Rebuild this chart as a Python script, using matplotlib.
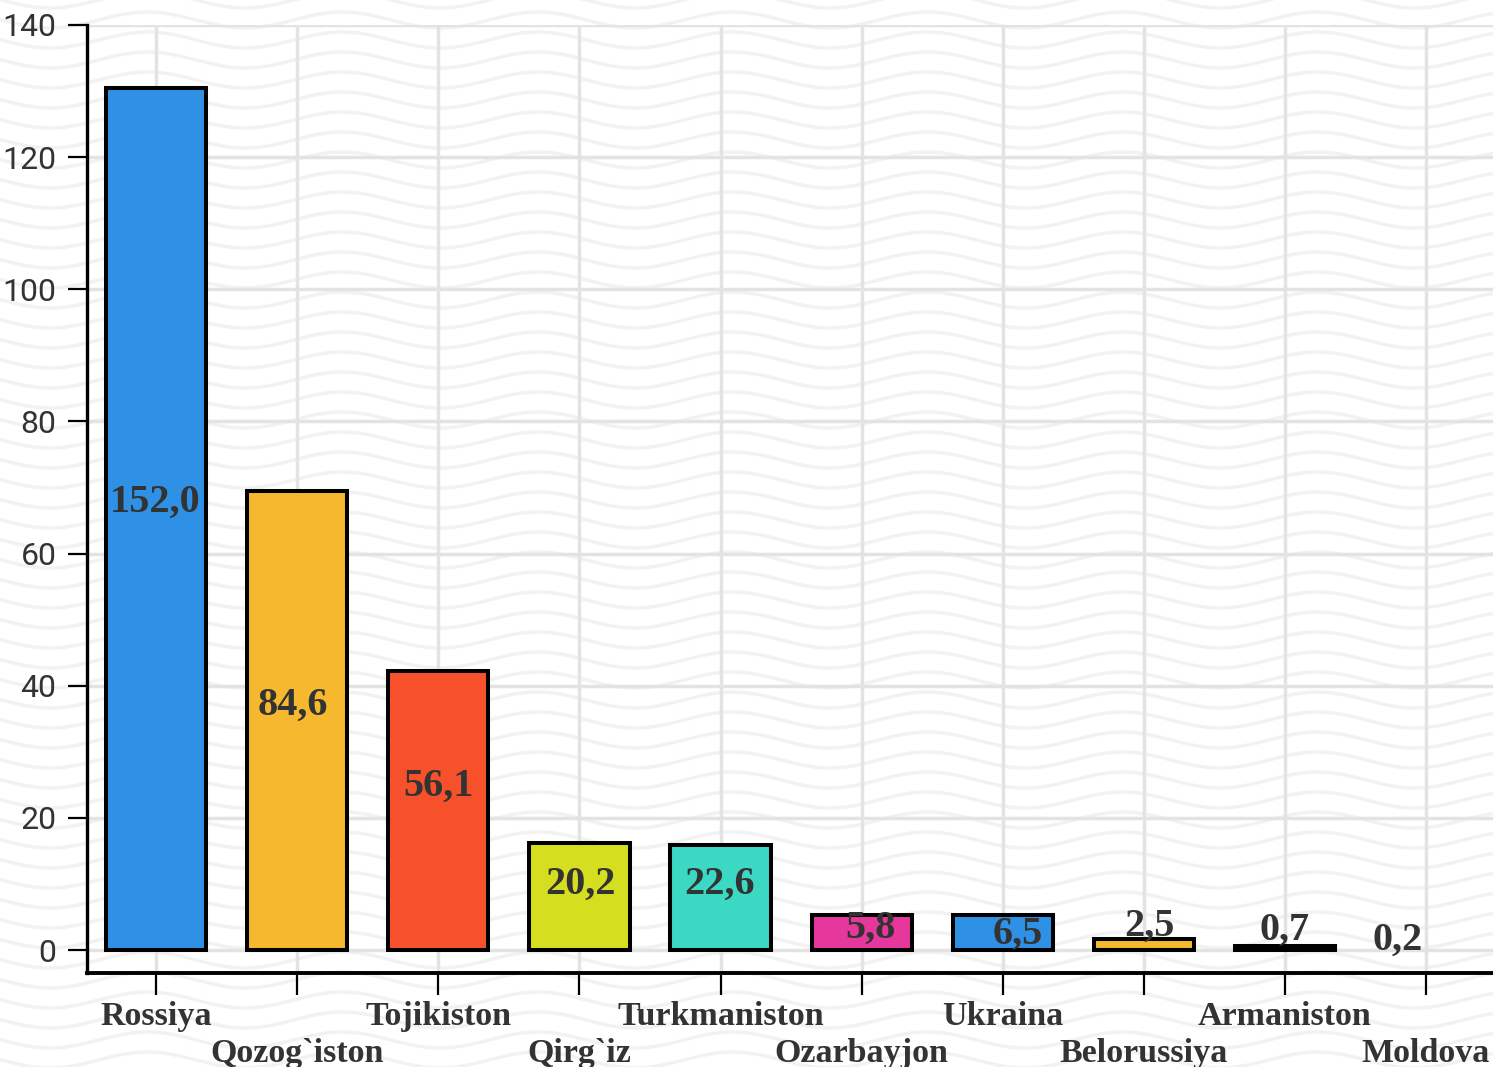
import numpy as np
import matplotlib
matplotlib.use("Agg")
import matplotlib.pyplot as plt

countries = ["Rossiya", "Qozog`iston", "Tojikiston", "Qirg`iz", "Turkmaniston",
             "Ozarbayjon", "Ukraina", "Belorussiya", "Armaniston", "Moldova"]
bar_heights = [130.5, 69.5, 42.3, 16.2, 15.9, 5.3, 5.3, 1.7, 0.6, 0.0]
value_labels = ["152,0", "84,6", "56,1", "20,2", "22,6", "5,8", "6,5", "2,5", "0,7", "0,2"]
colors = ["#2E91E5", "#F5B82E", "#F7512B", "#D5DF1F", "#3BD9C3",
          "#E5379C", "#2E91E5", "#F5B82E", "#F7512B", "#D5DF1F"]

# where the value labels sit (data units)
label_y = [67.8, 37.1, 24.7, 10.0, 10.0, 3.3, 2.4, 3.6, 3.0, 1.5]
label_dx = [-0.01, -0.03, 0.0, 0.01, -0.01, 0.06, 0.11, 0.04, 0.0, -0.2]

fig = plt.figure(figsize=(14.93, 10.67), dpi=100)

# faint wavy paper texture behind everything
bg = fig.add_axes([0, 0, 1, 1], zorder=-5)
bg.set_xlim(0, 1493)
bg.set_ylim(1067, 0)
bg.axis("off")
xx = np.linspace(0, 1493, 800)
for y0 in np.arange(-20, 1100, 20):
    bg.plot(xx, y0 + 8 * np.sin(2 * np.pi * (xx - 50) / 195.0 + np.pi / 2),
            color="#f2f2f2", lw=2.5)

ax = fig.add_axes([87 / 1493, 1 - 973 / 1067, 1 - 87 / 1493, (973 - 25) / 1067])
ax.set_facecolor("none")

x = np.arange(len(countries))
bars = ax.bar(x, bar_heights, width=0.71, color=colors, edgecolor="black", linewidth=2.9, zorder=3)
for b, h in zip(bars, bar_heights):
    if h == 0:
        b.set_visible(False)

for i, lab in enumerate(value_labels):
    ax.text(x[i] + label_dx[i], label_y[i], lab, ha="center", va="center",
            family="Liberation Serif", fontweight="bold", fontsize=29, color="#333333", zorder=4)

ax.set_xlim(-0.49, 9.475)
ax.set_ylim(-3.48, 140)
ax.set_yticks(np.arange(0, 141, 20))

# labels on two rows: even ones as major ticks, odd ones as minor ticks with a bigger pad
ax.set_xticks(x[::2])
ax.set_xticklabels(countries[::2], family="Liberation Serif", fontweight="bold",
                   fontsize=24.5, color="#333333")
ax.set_xticks(x[1::2], minor=True)
ax.set_xticklabels(countries[1::2], minor=True, family="Liberation Serif", fontweight="bold",
                   fontsize=24.5, color="#333333")
ax.tick_params(axis="x", which="both", length=16, width=1.6, color="black")
ax.tick_params(axis="x", which="major", pad=4)
ax.tick_params(axis="x", which="minor", pad=31)

for lab in ax.get_yticklabels():
    lab.set_family(["Liberation Sans Narrow", "Roboto"])
    lab.set_fontsize(23)
    lab.set_color("#333333")
ax.tick_params(axis="y", length=14, width=1.6, pad=8, color="black")

ax.grid(True, which="major", color="#e3e3e3", linewidth=2.5, zorder=0)
ax.grid(True, which="minor", axis="x", color="#e3e3e3", linewidth=2.5, zorder=0)
ax.set_axisbelow(True)

ax.spines["top"].set_visible(False)
ax.spines["right"].set_visible(False)
ax.spines["left"].set_linewidth(2.4)
ax.spines["bottom"].set_linewidth(2.8)

plt.savefig("out.png", dpi=100)
